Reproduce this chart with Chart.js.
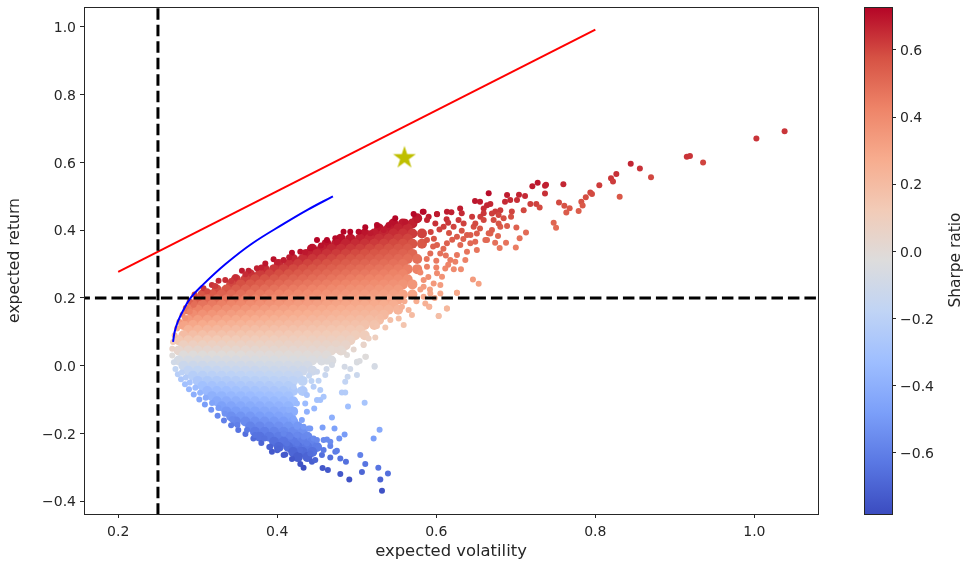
<!DOCTYPE html>
<html><head><meta charset="utf-8">
<script src="https://cdn.jsdelivr.net/npm/chart.js@4"></script>
<style>html,body{margin:0;padding:0;background:#fff;width:963px;height:562px;overflow:hidden}
canvas{position:absolute;top:0;filter:blur(.4px)}</style></head><body>
<canvas id="main" style="left:0"></canvas><canvas id="bar" style="left:820px"></canvas>
<script>
const xTicks=[0.2,0.4,0.6,0.8,1.0];
const yTicks=[-0.4,-0.2,0,0.2,0.4,0.6,0.8,1.0];
const barTicks=[-0.6,-0.4,-0.2,0,0.2,0.4,0.6];
const sharpeRange=[-0.782,0.728];
const riskFree=0.035;
const colorbarLabel='Sharpe ratio';
const coolwarm=['#3b4cc0','#5977e3','#7b9ff9','#9ebeff','#c0d4f5','#dddcdc','#f2cbb7','#f7ac8e','#ee8468','#d65244','#b40426'];
const redLine=[[0.2,0.277],[0.8,0.992]];
const blueLine=[[0.269,0.07],[0.271,0.10],[0.275,0.13],[0.281,0.16],[0.291,0.20],[0.307,0.24],[0.335,0.30],[0.368,0.36],[0.409,0.42],[0.438,0.46],[0.47,0.5]];
const volLine=[[0.25,-0.44],[0.25,1.06]];
const retLine=[[0.15,0.2],[1.09,0.2]];
const star=[[0.56,0.615]];
const coreRows=[
[.435,[.576]],
[.420,[.546,.558,.570]],
[.405,[.528,.540,.552,.564]],
[.390,[.510,.522,.534,.546,.558,.570,.582]],
[.375,[.480,.492,.504,.516,.528,.540,.552,.564]],
[.360,[.462,.474,.486,.498,.510,.522,.534,.546,.558,.570,.582]],
[.345,[.444,.456,.468,.480,.492,.504,.516,.528,.540,.552,.564]],
[.330,[.438,.450,.462,.474,.486,.498,.510,.522,.534,.546,.558,.570]],
[.315,[.420,.432,.444,.456,.468,.480,.492,.504,.516,.528,.540,.552,.564,.576]],
[.300,[.402,.414,.426,.438,.450,.462,.474,.486,.498,.510,.522,.534,.546,.558]],
[.285,[.384,.396,.408,.420,.432,.444,.456,.468,.480,.492,.504,.516,.528,.540,.552,.564,.576]],
[.270,[.366,.378,.390,.402,.414,.426,.438,.450,.462,.474,.486,.498,.510,.522,.534,.546,.558]],
[.255,[.348,.360,.372,.384,.396,.408,.420,.432,.444,.456,.468,.480,.492,.504,.516,.528,.540,.552,.564]],
[.240,[.342,.354,.366,.378,.390,.402,.414,.426,.438,.450,.462,.474,.486,.498,.510,.522,.534,.546,.558,.570]],
[.225,[.324,.336,.348,.360,.372,.384,.396,.408,.420,.432,.444,.456,.468,.480,.492,.504,.516,.528,.540,.552]],
[.210,[.306,.318,.330,.342,.354,.366,.378,.390,.402,.414,.426,.438,.450,.462,.474,.486,.498,.510,.522,.534,.546,.558,.570]],
[.195,[.300,.312,.324,.336,.348,.360,.372,.384,.396,.408,.420,.432,.444,.456,.468,.480,.492,.504,.516,.528,.540,.552]],
[.180,[.294,.306,.318,.330,.342,.354,.366,.378,.390,.402,.414,.426,.438,.450,.462,.474,.486,.498,.510,.522,.534,.546]],
[.165,[.288,.300,.312,.324,.336,.348,.360,.372,.384,.396,.408,.420,.432,.444,.456,.468,.480,.492,.504,.516,.528,.540,.552]],
[.150,[.294,.306,.318,.330,.342,.354,.366,.378,.390,.402,.414,.426,.438,.450,.462,.474,.486,.498,.510,.522,.534]],
[.135,[.288,.300,.312,.324,.336,.348,.360,.372,.384,.396,.408,.420,.432,.444,.456,.468,.480,.492,.504,.516,.528]],
[.120,[.282,.294,.306,.318,.330,.342,.354,.366,.378,.390,.402,.414,.426,.438,.450,.462,.474,.486,.498,.510,.522]],
[.105,[.288,.300,.312,.324,.336,.348,.360,.372,.384,.396,.408,.420,.432,.444,.456,.468,.480,.492,.504]],
[.090,[.282,.294,.306,.318,.330,.342,.354,.366,.378,.390,.402,.414,.426,.438,.450,.462,.474,.486,.498,.510]],
[.075,[.276,.288,.300,.312,.324,.336,.348,.360,.372,.384,.396,.408,.420,.432,.444,.456,.468,.480,.492]],
[.060,[.282,.294,.306,.318,.330,.342,.354,.366,.378,.390,.402,.414,.426,.438,.450,.462,.474,.486]],
[.045,[.276,.288,.300,.312,.324,.336,.348,.360,.372,.384,.396,.408,.420,.432,.444,.456,.468,.480]],
[.030,[.282,.294,.306,.318,.330,.342,.354,.366,.378,.390,.402,.414,.426,.438,.450,.462]],
[.015,[.276,.288,.300,.312,.324,.336,.348,.360,.372,.384,.396,.408,.420,.432,.444,.456,.468]],
[.000,[.282,.294,.306,.318,.330,.342,.354,.366,.378,.390,.402,.414,.426,.438]],
[-.015,[.288,.300,.312,.324,.336,.348,.360,.372,.384,.396,.408,.420,.432,.444]],
[-.030,[.294,.306,.318,.330,.342,.354,.366,.378,.390,.402,.414,.426]],
[-.045,[.300,.312,.324,.336,.348,.360,.372,.384,.396,.408,.420,.432]],
[-.060,[.306,.318,.330,.342,.354,.366,.378,.390,.402,.414]],
[-.075,[.312,.324,.336,.348,.360,.372,.384,.396,.408,.420,.432]],
[-.090,[.318,.330,.342,.354,.366,.378,.390,.402,.414]],
[-.105,[.324,.336,.348,.360,.372,.384,.396,.408,.420]],
[-.120,[.330,.342,.354,.366,.378,.390,.402,.414]],
[-.135,[.336,.348,.360,.372,.384,.396,.408,.420]],
[-.150,[.342,.354,.366,.378,.390,.402,.414]],
[-.165,[.348,.360,.372,.384,.396,.408,.420]],
[-.180,[.366,.378,.390,.402,.414,.426]],
[-.195,[.372,.384,.396,.408,.420,.432]],
[-.210,[.378,.390,.402,.414,.426,.438]],
[-.225,[.396,.408,.420,.432,.444]],
[-.240,[.402,.414,.426,.438,.450]],
[-.255,[.420,.432,.444]],
[-.270,[.426,.438]]
];
const edgePoints=[
[.3073,.2282],[.3178,.2381],[.3262,.2509],[.3346,.2528],[.3472,.2607],[.3556,.2804],[.3639,.2804],[.3744,.2873],[.385,.302],[.3954,.3139],[.408,.3119],[.4185,.3336],[.429,.3365],[.4415,.3464],[.45,.371],[.4625,.371],[.473,.3759],[.4834,.3956],[.4918,.3956],[.5023,.3956],[.5107,.4084],[.5254,.4153],[.5401,.4153],[.5484,.435],[.561,.4251],[.5715,.4478],[.5841,.4546],[.6008,.4478],[.6134,.4546],[.5338,.4005],[.517,.3907],[.5757,.43],[.5904,.4399],
[.268,.05],[.269,.07],[.271,.09],[.274,.11],[.277,.13],[.281,.15],[.285,.17],[.29,.19],[.296,.21],[.302,.2],[.312,.22],[.322,.235],[.342,.25],[.36,.27],[.38,.29],[.40,.305],[.415,.32],[.435,.335],[.455,.355],[.475,.365],[.28,.12],[.284,.14],[.29,.16],[.295,.18],
[.268,.03],[.27,.01],[.272,-.01],[.275,-.025],[.279,-.04],[.284,-.055],[.289,-.07],[.295,-.085],[.302,-.10],[.309,-.115],[.317,-.13],[.325,-.148],[.333,-.162],[.342,-.176],[.351,-.19],[.36,-.202],[.37,-.215],[.38,-.228],[.39,-.24],[.40,-.25],[.41,-.262],[.35,-.175],[.362,-.19],[.372,-.205],[.384,-.215],[.28,-.02],[.285,-.035],[.29,-.05],[.297,-.065],[.303,-.08],[.31,-.095],[.318,-.11],[.326,-.125],[.334,-.142],[.343,-.158]
];
const scatterPoints=[
[1.038,.692],[1.0025,.671],[.915,.617],[.919,.619],[.9355,.6],[.87,.556],[.856,.582],[.8445,.596],[.8264,.566],[.8197,.553],[.8222,.544],[.8306,.499],[.805,.533],[.7937,.511],[.7958,.507],[.788,.497],[.7824,.484],[.784,.473],[.779,.457],[.7598,.536],[.7367,.531],[.738,.534],[.7367,.508],[.7275,.54],[.7208,.53],[.7543,.482],[.761,.472],[.7677,.465],[.7635,.452],[.7476,.422],[.7506,.407],[.6659,.509],[.689,.504],[.704,.505],[.7116,.501],[.6864,.484],[.693,.489],[.7015,.489],[.6487,.486],[.655,.484],[.7183,.477],[.7258,.477],[.73,.467],[.7099,.459],[.695,.455],[.694,.44],[.6638,.474],[.668,.477],[.6596,.464],[.6805,.459],[.6742,.455],[.67,.449],[.6784,.445],[.63,.4644],[.632,.45],[.619,.453],[.6009,.447],[.583,.4546],[.6554,.44],[.645,.44],[.628,.43],[.613,.432],[.689,.412],[.6805,.41],[.7007,.408],[.7128,.3935],[.7048,.376],[.7,.349],[.6776,.383],[.674,.363],[.6877,.363],[.6797,.3473],[.6461,.2547],[.6533,.242],[.626,.215],[.6365,.312],[.631,.285],[.622,.285],[.6134,.169],[.603,.1465],[.591,.174],[.651,.3414],[.649,.366],[.6638,.371],[.668,.39],[.651,.39],[.643,.386],
[.5883,.43],[.5988,.4201],[.6092,.4103],[.6218,.4103],[.6344,.4201],[.647,.4103],[.6386,.3857],[.626,.3807],[.6134,.3611],[.6009,.3561],[.5883,.3709],[.6302,.3561],[.6428,.3611],[.6386,.3364],[.626,.3266],[.6176,.3118],[.605,.3315],[.5925,.3315],[.6239,.3069],[.6113,.2872],[.6009,.2725],[.6072,.2626],[.5883,.2921],[.5841,.2528],[.5967,.2429],[.6051,.238],[.5841,.2331],[.6051,.2134],[.5925,.2134],[.5841,.2036],[.6659,.3906],[.6617,.3709],[.67,.4004],[.6784,.4201],[.6721,.43],[.6847,.4349],[.6596,.43],[.6491,.4201],[.6596,.4497],
[.593,.395],[.604,.402],[.616,.392],[.632,.398],[.615,.422],[.597,.375],[.609,.345],[.62,.372],[.634,.374],[.655,.405],[.596,.352],[.588,.315],[.6,.31],[.612,.325],[.58,.275],[.59,.262],[.6,.29],[.615,.298],[.58,.225],[.592,.225],[.598,.2],[.575,.19],[.56,.19],
[.626,.2154],[.6134,.1691],[.603,.1465],[.5912,.174],[.5862,.1839],[.5694,.1494],[.559,.1199],[.5527,.1396],[.5652,.1642],[.5568,.1741],[.5359,.113],[.5254,.1169],[.5422,.1347],[.5296,.1445],[.5233,.0835],[.5149,.0805],[.5086,.0628],[.5107,.0264],[.5002,.0116],[.4877,.0313],[.5225,-.0012],[.4751,.0461],[.4835,.0411],[.4961,.048],
[.5317,-.3694],[.5296,-.3359],[.5392,-.3182],[.5271,-.3014],[.5065,-.3142],[.5107,-.2906],[.5044,-.264],[.4906,-.3359],[.4793,-.3201],[.4637,-.3083],[.457,-.3024],[.4864,-.2837],[.4793,-.2739],[.4667,-.2709],[.5287,-.1892],[.5212,-.2148],[.4847,-.203],[.478,-.2148],[.472,-.1853],[.457,-.1823],[.4688,-.1528],[.489,-.1203],[.5099,-.1095],[.4855,-.079],[.4813,-.079],[.5002,-.0278],[.4855,-.0475],[.4885,-.0327],[.4847,-.0032],[.4918,-.01],[.5002,.0096],[.5036,.0136],[.5115,.0264],[.5224,-.0032],[.5086,.0608],[.4465,-.1262],[.4541,-.1016],[.4583,-.0917],[.452,-.0445],[.4604,-.0278],[.45,-.018],[.4688,.0018],[.4625,.0116],
[.4331,-.3014],[.429,-.2906],[.4436,-.2837],[.4478,-.2788],[.4185,-.2758],[.408,-.264],[.3933,-.2542],[.4415,-.2591],[.4562,-.264],[.4583,-.2493],[.473,-.2542],[.4667,-.2375],[.4625,-.2178],[.4457,-.2148],[.4394,-.1853],[.429,-.2493],[.4248,-.2296],[.4373,-.2296],[.4164,-.2099],[.408,-.2],[.4248,-.205],[.4331,-.2099],[.4122,-.2296],[.4017,-.2443],[.3912,-.2394],
[.4206,-.0622],[.429,-.0721],[.4373,-.0868],[.4457,-.0622],[.4541,-.0721],[.4248,-.1114],[.4352,-.1114],[.45,-.1016],[.4373,-.136],[.431,-.1607],[.4248,-.1804],[.4415,-.1853],[.4499,-.2197],[.4583,-.2197],[.4667,-.2247],[.452,-.2394],[.475,-.2512],[.4331,-.1804],[.4206,-.1557],[.4143,-.1311],[.44,-.03],[.445,-.01],[.455,.01],[.462,-.01],[.443,-.045],[.46,.03]
];
const tickFont={family:'"DejaVu Sans"',size:14};
const ink='#262626';
function hex(c){return [1,3,5].map(i=>parseInt(c.substr(i,2),16));}
function colorAt(t){
  t=Math.max(0,Math.min(1,t))*(coolwarm.length-1);
  const i=Math.min(coolwarm.length-2,Math.floor(t)),f=t-i,a=hex(coolwarm[i]),b=hex(coolwarm[i+1]);
  return 'rgb('+a.map((v,k)=>Math.round(v+(b[k]-v)*f)).join(',')+')';
}
function sharpeColor(ctx){
  const p=ctx.raw; if(!p) return '#ddd';
  return colorAt(((p.y-riskFree)/p.x-sharpeRange[0])/(sharpeRange[1]-sharpeRange[0]));
}
const xy=a=>a.map(p=>({x:p[0],y:p[1]}));
const corePts=[];
coreRows.forEach(r=>r[1].forEach(x=>corePts.push({x:x,y:r[0]})));
const starImg=document.createElement('canvas');starImg.width=starImg.height=24;
(function(){const c=starImg.getContext('2d');c.fillStyle='#bfbf00';c.beginPath();
 for(let i=0;i<10;i++){const r=i%2?4.6:12,a=-Math.PI/2+i*Math.PI/5;c.lineTo(12+r*Math.cos(a),12.5+r*Math.sin(a));}
 c.closePath();c.fill();})();
const frame={id:'frame',afterDraw(ch){const a=ch.chartArea,c=ch.ctx;c.save();c.strokeStyle=ink;c.lineWidth=1;
 c.strokeRect(Math.round(a.left)+.5,Math.round(a.top)+.5,Math.round(a.right-a.left),Math.round(a.bottom-a.top));c.restore();}};
const barTitle={id:'barTitle',afterDraw(ch){const c=ch.ctx;c.save();c.fillStyle=ink;c.font='15.4px "DejaVu Sans"';c.textAlign='center';c.textBaseline='middle';
 c.translate(136,260);c.rotate(-Math.PI/2);c.fillText(colorbarLabel,0,0);c.restore();}};
const fmt=v=>(v<0?'\u2212':'')+Math.abs(v).toFixed(1);
const axisGrid={display:true,drawOnChartArea:false,drawTicks:true,tickLength:4,tickColor:ink,tickWidth:1};
function line(data,color,width,order,extra){return Object.assign({data:xy(data),showLine:true,borderColor:color,borderWidth:width,pointRadius:0,order:order,fill:false},extra||{});}
const mainEl=document.getElementById('main');mainEl.width=963;mainEl.height=562;
new Chart(mainEl,{type:'scatter',data:{datasets:[
 {data:xy(star),pointStyle:starImg,pointRadius:12,order:0},
 line(volLine,'#000',3,1,{borderDash:[11.5,5]}),
 line(retLine,'#000',3,2,{borderDash:[11.5,5]}),
 line(blueLine,'#0000ff',2,3,{tension:0.4}),
 line(redLine,'#ff0000',2,4),
 {data:xy(edgePoints),pointRadius:3,pointBorderWidth:0,pointBackgroundColor:sharpeColor,order:6},
 {data:xy(scatterPoints),pointRadius:3,pointBorderWidth:0,pointBackgroundColor:sharpeColor,order:5},
 {data:corePts,pointRadius:5,pointBorderWidth:0,pointBackgroundColor:sharpeColor,order:7}
]},plugins:[frame],options:{responsive:false,animation:false,events:[],
 layout:{autoPadding:false,padding:{top:7,right:145,left:0,bottom:0}},
 plugins:{legend:{display:false},tooltip:{enabled:false}},
 scales:{
  x:{type:'linear',min:0.157,max:1.08,grid:axisGrid,border:{color:ink},
     afterBuildTicks:s=>{s.ticks=xTicks.map(v=>({value:v}));},
     afterFit:s=>{s.height=48;s.paddingLeft=0;s.paddingRight=0;},
     ticks:{color:ink,font:tickFont,padding:6,maxRotation:0,callback:fmt},
     title:{display:true,text:'expected volatility',color:ink,font:{family:'"DejaVu Sans"',size:16.4},padding:{top:0,bottom:0}}},
  y:{type:'linear',min:-0.438,max:1.059,grid:axisGrid,border:{color:ink},
     afterBuildTicks:s=>{s.ticks=yTicks.map(v=>({value:v}));},
     afterFit:s=>{s.width=84;s.paddingTop=0;s.paddingBottom=0;},
     ticks:{color:ink,font:tickFont,padding:4,labelOffset:1.5,callback:fmt},
     title:{display:true,text:'expected return',color:ink,font:{family:'"DejaVu Sans"',size:15.6},padding:{top:6,bottom:0}}}
 }}});
const barEl=document.getElementById('bar');barEl.width=143;barEl.height=562;
new Chart(barEl,{type:'bar',data:{labels:[colorbarLabel],datasets:[{data:[sharpeRange],barPercentage:1,categoryPercentage:1,borderWidth:0,
 backgroundColor(ctx){const a=ctx.chart.chartArea;if(!a)return '#ddd';
  const g=ctx.chart.ctx.createLinearGradient(0,a.bottom,0,a.top);
  coolwarm.forEach((c,i)=>g.addColorStop(i/(coolwarm.length-1),c));return g;}}]},
 plugins:[frame,barTitle],options:{responsive:false,animation:false,events:[],
 layout:{padding:{top:7,left:44,right:0,bottom:48}},
 plugins:{legend:{display:false},tooltip:{enabled:false}},
 scales:{
  x:{display:false},
  y:{position:'right',type:'linear',min:sharpeRange[0],max:sharpeRange[1],grid:axisGrid,border:{color:ink},
     afterBuildTicks:s=>{s.ticks=barTicks.map(v=>({value:v}));},
     afterFit:s=>{s.width=71;s.paddingTop=0;s.paddingBottom=0;},
     ticks:{color:ink,font:tickFont,padding:4,labelOffset:1.5,callback:fmt}}
 }}});
</script></body></html>
